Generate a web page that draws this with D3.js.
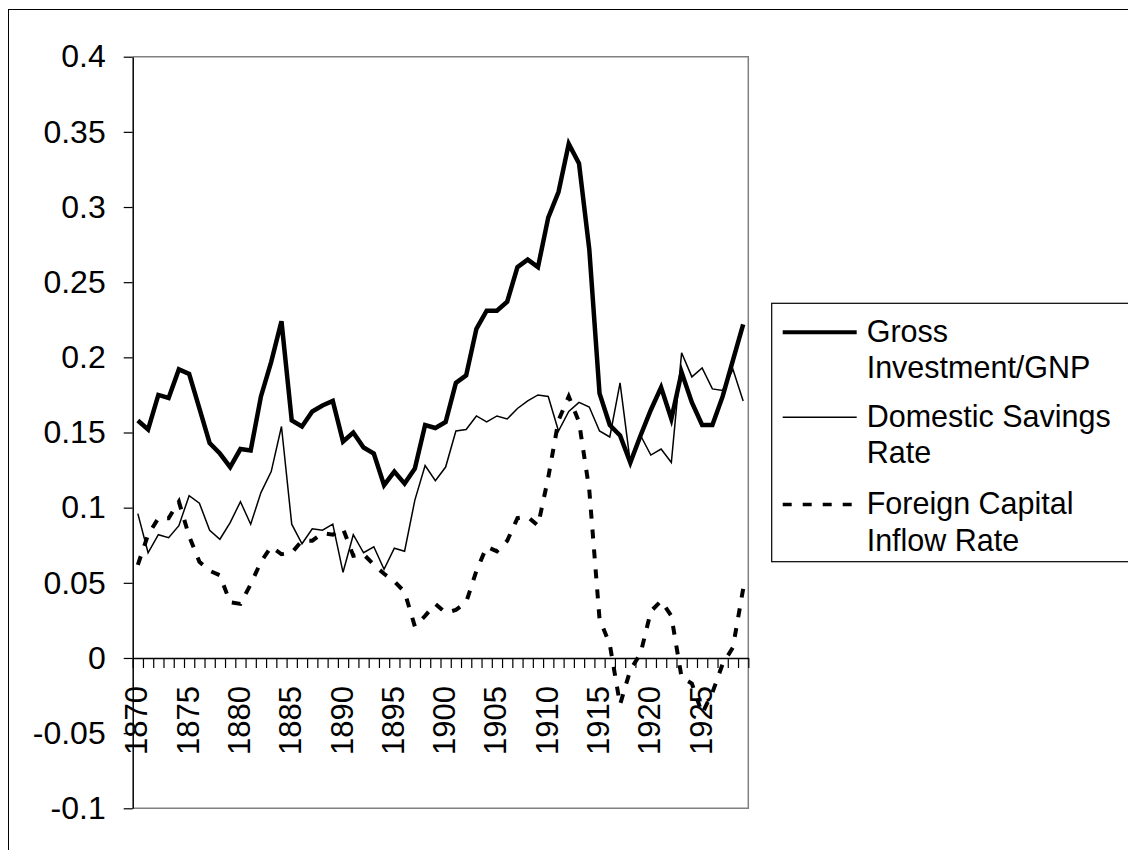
<!DOCTYPE html>
<html>
<head>
<meta charset="utf-8">
<script src="https://cdn.jsdelivr.net/npm/d3@7"></script>
<style>
  html, body { margin: 0; padding: 0; background: #fff; }
  svg { display: block; font-family: 'Liberation Sans', Arial, sans-serif; }
</style>
</head>
<body>
<svg id="chart" width="1128" height="850"></svg>
<script>
// years 1870..1929
const years = d3.range(1870, 1930);

const grossInvestment = [
  0.158, 0.152, 0.175, 0.173, 0.192, 0.189, 0.166, 0.143, 0.136, 0.127,
  0.139, 0.138, 0.174, 0.197, 0.224, 0.158, 0.154, 0.164, 0.168, 0.171,
  0.144, 0.150, 0.140, 0.136, 0.115, 0.124, 0.116, 0.126, 0.155, 0.153,
  0.157, 0.183, 0.188, 0.219, 0.231, 0.231, 0.237, 0.260, 0.265, 0.260,
  0.293, 0.310, 0.342, 0.329, 0.272, 0.176, 0.155, 0.148, 0.130, 0.148,
  0.165, 0.180, 0.159, 0.190, 0.170, 0.155, 0.155, 0.174, 0.198, 0.222
];

const domesticSavings = [
  0.096, 0.070, 0.082, 0.080, 0.088, 0.108, 0.103, 0.085, 0.079, 0.090,
  0.104, 0.089, 0.110, 0.124, 0.154, 0.089, 0.076, 0.086, 0.085, 0.089,
  0.057, 0.082, 0.070, 0.074, 0.059, 0.073, 0.071, 0.105, 0.128, 0.118,
  0.127, 0.151, 0.152, 0.161, 0.157, 0.161, 0.159, 0.166, 0.171, 0.175,
  0.174, 0.151, 0.164, 0.170, 0.167, 0.151, 0.147, 0.183, 0.130, 0.148,
  0.135, 0.139, 0.130, 0.203, 0.187, 0.193, 0.179, 0.178, 0.192, 0.171
];

const foreignInflow = [
  0.062, 0.082, 0.093, 0.093, 0.104, 0.081, 0.064, 0.058, 0.055, 0.037,
  0.036, 0.049, 0.064, 0.074, 0.069, 0.070, 0.078, 0.078, 0.083, 0.082,
  0.086, 0.068, 0.069, 0.062, 0.056, 0.051, 0.044, 0.021, 0.028, 0.036,
  0.030, 0.032, 0.037, 0.058, 0.074, 0.071, 0.078, 0.093, 0.094, 0.088,
  0.120, 0.158, 0.174, 0.157, 0.112, 0.026, 0.009, -0.031, -0.008, 0.003,
  0.031, 0.038, 0.028, -0.013, -0.017, -0.037, -0.023, -0.004, 0.007, 0.046
];

const yTicks = [-0.1, -0.05, 0, 0.05, 0.1, 0.15, 0.2, 0.25, 0.3, 0.35, 0.4];
const xLabelYears = [1870, 1875, 1880, 1885, 1890, 1895, 1900, 1905, 1910, 1915, 1920, 1925];

const seriesNames = [
  ['Gross', 'Investment/GNP'],
  ['Domestic Savings', 'Rate'],
  ['Foreign Capital', 'Inflow Rate']
];

const plot = { left: 132.7, right: 748.3, top: 56.7, bottom: 808.3 };

const svg = d3.select('#chart');

// outer chart frame (only top/left edges fall inside the picture)
svg.append('rect')
  .attr('x', 8.5).attr('y', 9.5)
  .attr('width', 1300).attr('height', 1000)
  .attr('fill', 'none').attr('stroke', '#000').attr('stroke-width', 1);

// category boundaries on a linear scale, points sit in the middle of each year
const x = d3.scaleLinear().domain([1870, 1930]).range([plot.left, plot.right]);
const xc = yr => x(yr + 0.5);
const y = d3.scaleLinear().domain([-0.1, 0.4]).range([plot.bottom, plot.top]);

// plot area border (grey) top / right / bottom
svg.append('path')
  .attr('d', `M${plot.left},${plot.top}H${plot.right}V${plot.bottom}H${plot.left}`)
  .attr('fill', 'none')
  .attr('stroke', '#808080')
  .attr('stroke-width', 1.5);

// y axis
const yAxis = d3.axisLeft(y)
  .tickValues(yTicks)
  .tickFormat(d => String(+d.toFixed(2)))
  .tickSizeInner(9)
  .tickSizeOuter(0)
  .tickPadding(18);

const gy = svg.append('g')
  .attr('transform', `translate(${plot.left},0)`)
  .call(yAxis);
gy.select('.domain').attr('stroke', '#000').attr('stroke-width', 1.5);
gy.selectAll('.tick line').attr('stroke', '#000').attr('stroke-width', 1.2);
gy.selectAll('.tick text')
  .attr('fill', '#000')
  .style('font-size', '32px')
  .style('font-family', "'Liberation Sans', Arial, sans-serif");

// x axis at zero, ticks on category boundaries
const xAxis = d3.axisBottom(x)
  .tickValues(d3.range(1870, 1931))
  .tickFormat('')
  .tickSizeInner(10)
  .tickSizeOuter(0);

const gx = svg.append('g')
  .attr('transform', `translate(0,${y(0)})`)
  .call(xAxis);
gx.select('.domain').attr('stroke', '#000').attr('stroke-width', 1.5);
gx.selectAll('.tick line').attr('stroke', '#000').attr('stroke-width', 1.2);

// rotated year labels
svg.append('g')
  .selectAll('text')
  .data(xLabelYears)
  .join('text')
  .attr('transform', d => `translate(${xc(d) - 1},${y(0) + 28}) rotate(-90)`)
  .attr('text-anchor', 'end')
  .attr('dominant-baseline', 'central')
  .attr('fill', '#000')
  .style('font-size', '31px')
  .text(d => d);

// series lines
const series = [
  { values: grossInvestment, width: 4.5, dash: null },
  { values: domesticSavings, width: 1.5, dash: null },
  { values: foreignInflow, width: 4, dash: '9,11' }
];

const line = d3.line()
  .x((d, i) => xc(years[i]))
  .y(d => y(d));

svg.append('g')
  .selectAll('path')
  .data(series)
  .join('path')
  .attr('d', d => line(d.values))
  .attr('fill', 'none')
  .attr('stroke', '#000')
  .attr('stroke-width', d => d.width)
  .attr('stroke-linejoin', 'miter')
  .attr('stroke-dasharray', d => d.dash);

// legend
const legend = svg.append('g');
legend.append('rect')
  .attr('x', 771.7).attr('y', 303.3)
  .attr('width', 420).attr('height', 258.4)
  .attr('fill', '#fff')
  .attr('stroke', '#000')
  .attr('stroke-width', 1.2);

const entryTop = [341.7, 426.7, 514];
const lineGap = 36.7;

series.forEach((s, i) => {
  const base = entryTop[i];
  legend.append('line')
    .attr('x1', 782.7).attr('x2', 856.7)
    .attr('y1', base - 9.4).attr('y2', base - 9.4)
    .attr('stroke', '#000')
    .attr('stroke-width', s.width === 1.5 ? 1.5 : (s.dash ? 3.5 : 4))
    .attr('stroke-dasharray', s.dash);

  seriesNames[i].forEach((t, k) => {
    legend.append('text')
      .attr('x', 866.7)
      .attr('y', base + k * lineGap)
      .attr('fill', '#000')
      .style('font-size', '30.5px')
      .text(t);
  });
});
</script>
</body>
</html>
